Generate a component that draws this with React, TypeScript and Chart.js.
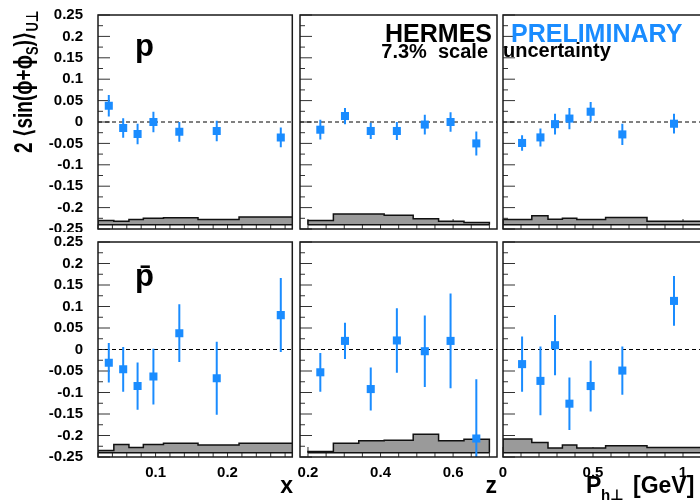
import React, { useEffect, useRef } from 'react';
import { Chart, registerables } from 'chart.js';

Chart.register(...registerables);

const BLUE = '#1a8cff';
const GREY = '#9a9a9a';
const FONT = "'Liberation Sans', Arial, Helvetica, 'DejaVu Sans', sans-serif";

// ---- axis ticks ----
const Y_TICKS = [-0.25, -0.2, -0.15, -0.1, -0.05, 0, 0.05, 0.1, 0.15, 0.2, 0.25];
const X_TICKS_X = [0.1, 0.2];
const Z_TICKS = [0.2, 0.4, 0.6];
const PH_TICKS = [0, 0.5, 1];

// ---- bin centres ----
const X_CENTERS = [0.035, 0.055, 0.075, 0.097, 0.133, 0.185, 0.274];
const Z_CENTERS = [0.234, 0.302, 0.373, 0.445, 0.522, 0.593, 0.664];
const PH_CENTERS = [0.106, 0.208, 0.289, 0.369, 0.487, 0.663, 0.95];

// ---- bin edges (systematic bands) ----
const X_EDGES = [0.02, 0.042, 0.063, 0.083, 0.111, 0.159, 0.216, 0.4];
const Z_EDGES = [0.2, 0.27, 0.34, 0.41, 0.49, 0.56, 0.63, 0.7];
const PH_EDGES = [0, 0.16, 0.25, 0.33, 0.41, 0.57, 0.8, 1.2];
const SYS_BASE = -0.24;

// ---- proton ----
const P_X_VAL = [0.038, -0.014, -0.028, 0.0, -0.023, -0.021, -0.036];
const P_X_ERR = [0.025, 0.023, 0.024, 0.024, 0.023, 0.024, 0.023];
const P_X_SYS = [0.010, 0.008, 0.012, 0.015, 0.016, 0.012, 0.018];

const P_Z_VAL = [-0.018, 0.014, -0.021, -0.021, -0.006, 0.0, -0.050];
const P_Z_ERR = [0.023, 0.019, 0.019, 0.021, 0.023, 0.023, 0.028];
const P_Z_SYS = [0.010, 0.025, 0.025, 0.022, 0.014, 0.008, 0.005];

const P_PH_VAL = [-0.049, -0.036, -0.005, 0.008, 0.024, -0.029, -0.004];
const P_PH_ERR = [0.018, 0.021, 0.024, 0.025, 0.023, 0.025, 0.023];
const P_PH_SYS = [0.012, 0.021, 0.013, 0.015, 0.012, 0.017, 0.008];

// ---- antiproton ----
const PBAR_X_VAL = [-0.031, -0.046, -0.085, -0.063, 0.038, -0.067, 0.080];
const PBAR_X_ERR = [0.046, 0.052, 0.055, 0.065, 0.067, 0.085, 0.086];
const PBAR_X_SYS = [0.005, 0.019, 0.012, 0.019, 0.022, 0.018, 0.022];

const PBAR_Z_VAL = [-0.053, 0.020, -0.092, 0.021, -0.004, 0.020, -0.207];
const PBAR_Z_ERR = [0.045, 0.042, 0.050, 0.075, 0.083, 0.110, 0.138];
const PBAR_Z_SYS = [0.003, 0.022, 0.028, 0.029, 0.043, 0.028, 0.031];

const PBAR_PH_VAL = [-0.034, -0.073, 0.010, -0.126, -0.085, -0.049, 0.113];
const PBAR_PH_ERR = [0.064, 0.080, 0.070, 0.061, 0.059, 0.056, 0.058];
const PBAR_PH_SYS = [0.032, 0.024, 0.011, 0.018, 0.011, 0.016, 0.012];

const Y_TITLE_RUNS = [
  { t: '2 \u27e8sin(\u03d5+\u03d5', sub: false },
  { t: 'S', sub: true },
  { t: ')\u27e9', sub: false },
  { t: 'U\u22a5', sub: true },
];

type TextItem = { t: string; x: number; y: number; size: number; align?: 'left' | 'right'; color?: string };
type Panel = {
  key: string;
  frame: { x: number; y: number; w: number; h: number };
  canvas: { x: number; y: number; w: number; h: number };
  xMin: number; xMax: number;
  centers: number[]; vals: number[]; errs: number[];
  edges: number[]; sys: number[];
  xTicks: number[]; minorStart: number; minorEnd: number; minorStep: number;
  showX: boolean; showY: boolean;
  texts: TextItem[];
  yTitle?: boolean; whiteBg?: boolean;
};

const COLS = [
  { x: 98, w: 197, cx: 0, cw: 298 },
  { x: 300, w: 197, cx: 292, cw: 213 },
  { x: 503, w: 198, cx: 495, cw: 214 },
];
const ROWS = [
  { y: 15, h: 214 },
  { y: 242, h: 215 },
];

const PANELS: Panel[] = [
  {
    key: 'p-x', frame: { x: COLS[0].x, y: ROWS[0].y, w: COLS[0].w, h: ROWS[0].h }, canvas: { x: COLS[0].cx, y: 0, w: COLS[0].cw, h: 241 },
    xMin: 0.02, xMax: 0.29, centers: X_CENTERS, vals: P_X_VAL, errs: P_X_ERR, edges: X_EDGES, sys: P_X_SYS,
    xTicks: X_TICKS_X, minorStart: 0.02, minorEnd: 0.28, minorStep: 0.02, showX: false, showY: true,
    texts: [{ t: 'p', x: 135, y: 56, size: 31 }], yTitle: true,
  },
  {
    key: 'p-z', frame: { x: COLS[1].x, y: ROWS[0].y, w: COLS[1].w, h: ROWS[0].h }, canvas: { x: COLS[1].cx, y: 0, w: COLS[1].cw, h: 235 },
    xMin: 0.178, xMax: 0.721, centers: Z_CENTERS, vals: P_Z_VAL, errs: P_Z_ERR, edges: Z_EDGES, sys: P_Z_SYS,
    xTicks: Z_TICKS, minorStart: 0.2, minorEnd: 0.7, minorStep: 0.05, showX: false, showY: false,
    texts: [
      { t: 'HERMES', x: 492, y: 42, size: 25, align: 'right' },
      { t: '7.3%  scale', x: 488, y: 58, size: 20, align: 'right' },
    ],
  },
  {
    key: 'p-ph', frame: { x: COLS[2].x, y: ROWS[0].y, w: COLS[2].w, h: ROWS[0].h }, canvas: { x: COLS[2].cx, y: 0, w: COLS[2].cw, h: 235 },
    xMin: 0, xMax: 1.1, centers: PH_CENTERS, vals: P_PH_VAL, errs: P_PH_ERR, edges: PH_EDGES, sys: P_PH_SYS,
    xTicks: PH_TICKS, minorStart: 0, minorEnd: 1.1, minorStep: 0.1, showX: false, showY: false,
    texts: [
      { t: 'PRELIMINARY', x: 511, y: 42, size: 25, color: BLUE },
      { t: 'uncertainty', x: 503, y: 57, size: 20 },
    ],
  },
  {
    key: 'pbar-x', frame: { x: COLS[0].x, y: ROWS[1].y, w: COLS[0].w, h: ROWS[1].h }, canvas: { x: COLS[0].cx, y: 232, w: COLS[0].cw, h: 270 },
    xMin: 0.02, xMax: 0.29, centers: X_CENTERS, vals: PBAR_X_VAL, errs: PBAR_X_ERR, edges: X_EDGES, sys: PBAR_X_SYS,
    xTicks: X_TICKS_X, minorStart: 0.02, minorEnd: 0.28, minorStep: 0.02, showX: true, showY: true,
    texts: [
      { t: 'p\u0304', x: 135, y: 286, size: 31 },
      { t: 'x', x: 293, y: 493, size: 23, align: 'right' },
    ],
    whiteBg: true,
  },
  {
    key: 'pbar-z', frame: { x: COLS[1].x, y: ROWS[1].y, w: COLS[1].w, h: ROWS[1].h }, canvas: { x: COLS[1].cx, y: 232, w: COLS[1].cw, h: 270 },
    xMin: 0.178, xMax: 0.721, centers: Z_CENTERS, vals: PBAR_Z_VAL, errs: PBAR_Z_ERR, edges: Z_EDGES, sys: PBAR_Z_SYS,
    xTicks: Z_TICKS, minorStart: 0.2, minorEnd: 0.7, minorStep: 0.05, showX: true, showY: false,
    texts: [{ t: 'z', x: 497, y: 493, size: 23, align: 'right' }],
  },
  {
    key: 'pbar-ph', frame: { x: COLS[2].x, y: ROWS[1].y, w: COLS[2].w, h: ROWS[1].h }, canvas: { x: COLS[2].cx, y: 232, w: COLS[2].cw, h: 270 },
    xMin: 0, xMax: 1.1, centers: PH_CENTERS, vals: PBAR_PH_VAL, errs: PBAR_PH_ERR, edges: PH_EDGES, sys: PBAR_PH_SYS,
    xTicks: PH_TICKS, minorStart: 0, minorEnd: 1.1, minorStep: 0.1, showX: true, showY: false,
    texts: [
      { t: 'P', x: 586, y: 493, size: 23 },
      { t: 'h\u22a5', x: 601, y: 500, size: 15 },
      { t: '[GeV]', x: 633, y: 493, size: 23 },
    ],
  },
];

const fmt = (v: number) => String(Math.round(v * 1000) / 1000);

function makeDecor(p: Panel) {
  return {
    id: 'decor',
    beforeDatasetsDraw(chart: any) {
      const { ctx, chartArea: a, scales } = chart;
      const xs = scales.x;
      const ys = scales.y;
      ctx.save();
      ctx.strokeStyle = '#333';
      ctx.lineWidth = 1;
      ctx.beginPath();
      for (let i = 0; i < Y_TICKS.length; i++) {
        const py = ys.getPixelForValue(Y_TICKS[i]);
        ctx.moveTo(a.left, py);
        ctx.lineTo(a.left + 12, py);
        if (i < Y_TICKS.length - 1) {
          const pm = ys.getPixelForValue((Y_TICKS[i] + Y_TICKS[i + 1]) / 2);
          ctx.moveTo(a.left, pm);
          ctx.lineTo(a.left + 5, pm);
        }
      }
      const n = Math.round((p.minorEnd - p.minorStart) / p.minorStep);
      for (let k = 0; k <= n; k++) {
        const v = p.minorStart + k * p.minorStep;
        const major = p.xTicks.some((t) => Math.abs(t - v) < 1e-6);
        const px = xs.getPixelForValue(v);
        ctx.moveTo(px, a.bottom);
        ctx.lineTo(px, a.bottom - (major ? 10 : 4.5));
      }
      ctx.stroke();
      ctx.restore();
    },
    afterDatasetsDraw(chart: any) {
      const { ctx, chartArea: a } = chart;
      ctx.save();
      ctx.strokeStyle = '#1a1a1a';
      ctx.lineWidth = 1.5;
      ctx.strokeRect(a.left, a.top, a.right - a.left, a.bottom - a.top);
      ctx.textBaseline = 'alphabetic';
      for (const t of p.texts) {
        ctx.font = `bold ${t.size}px ${FONT}`;
        ctx.fillStyle = t.color || '#000';
        ctx.textAlign = t.align || 'left';
        ctx.fillText(t.t, t.x - p.canvas.x, t.y - p.canvas.y);
      }
      if (p.yTitle) {
        ctx.save();
        ctx.translate(31.5 - p.canvas.x, 153 - p.canvas.y);
        ctx.rotate(-Math.PI / 2);
        ctx.scale(0.76, 1);
        ctx.fillStyle = '#000';
        ctx.textAlign = 'left';
        let cx = 0;
        for (const r of Y_TITLE_RUNS) {
          ctx.font = `bold ${r.sub ? 17 : 25}px ${FONT}`;
          ctx.fillText(r.t, cx, r.sub ? 6 : 0);
          cx += ctx.measureText(r.t).width;
        }
        ctx.restore();
      }
      ctx.restore();
    },
  };
}

function buildConfig(p: Panel): any {
  const points = p.centers.map((x, i) => ({ x, y: p.vals[i] }));
  const bars: any[] = [];
  p.centers.forEach((x, i) => {
    bars.push({ x, y: p.vals[i] - p.errs[i] });
    bars.push({ x, y: p.vals[i] + p.errs[i] });
    bars.push({ x, y: null });
  });
  const first = p.edges[0];
  const last = p.edges[p.edges.length - 1];
  const band: any[] = [{ x: first, y: SYS_BASE }];
  p.sys.forEach((s, i) => band.push({ x: p.edges[i], y: SYS_BASE + s }));
  band.push({ x: last, y: SYS_BASE + p.sys[p.sys.length - 1] });
  band.push({ x: last, y: SYS_BASE });

  const padTop = p.frame.y - p.canvas.y;
  const padLeft = p.frame.x - p.canvas.x;
  const padRight = p.canvas.x + p.canvas.w - (p.frame.x + p.frame.w);
  const padBottom = p.canvas.y + p.canvas.h - (p.frame.y + p.frame.h);
  const tickFont = { family: FONT, size: 15, weight: 'bold' as const };

  const xScale: any = {
    type: 'linear', min: p.xMin, max: p.xMax, offset: false,
    display: p.showX,
    grid: { display: false, drawTicks: true, tickLength: 7 },
    border: { display: false },
    ticks: {
      font: tickFont, color: '#000', padding: 0, autoSkip: false, maxRotation: 0, minRotation: 0,
      callback: (v: any) => fmt(Number(v)),
    },
    afterBuildTicks: (s: any) => { s.ticks = p.xTicks.map((v) => ({ value: v })); },
  };
  if (p.showX) xScale.afterFit = (s: any) => { s.height = padBottom; };

  const yScale: any = {
    type: 'linear', min: -0.25, max: 0.25,
    display: p.showY,
    grid: { display: false, drawTicks: true, tickLength: 15 },
    border: { display: false },
    ticks: {
      font: tickFont, color: '#000', padding: 0, autoSkip: false,
      callback: (v: any) => fmt(Number(v)),
    },
    afterBuildTicks: (s: any) => { s.ticks = Y_TICKS.map((v) => ({ value: v })); },
  };
  if (p.showY) yScale.afterFit = (s: any) => { s.width = padLeft; };

  return {
    type: 'scatter',
    data: {
      datasets: [
        {
          type: 'scatter', data: points, order: 0,
          pointStyle: 'rect', pointRadius: 5.7, pointHoverRadius: 5.7,
          backgroundColor: BLUE, borderWidth: 0,
        },
        {
          type: 'line', data: bars, order: 1, spanGaps: false,
          borderColor: BLUE, borderWidth: 2, pointRadius: 0, borderCapStyle: 'butt',
        },
        {
          type: 'line', data: [{ x: p.xMin, y: 0 }, { x: p.xMax, y: 0 }], order: 2,
          borderColor: '#000', borderWidth: 1, borderDash: [4, 3], pointRadius: 0,
        },
        {
          type: 'line', data: [{ x: first, y: SYS_BASE }, { x: last, y: SYS_BASE }], order: 3,
          borderColor: '#111', borderWidth: 1.5, pointRadius: 0,
        },
        {
          type: 'line', data: band, order: 4, stepped: true,
          fill: { value: SYS_BASE }, backgroundColor: GREY,
          borderColor: '#111', borderWidth: 1.5, pointRadius: 0, borderJoinStyle: 'miter',
        },
      ],
    },
    options: {
      animation: false,
      responsive: false,
      events: [],
      layout: {
        padding: {
          top: padTop,
          left: p.showY ? 0 : padLeft,
          right: padRight,
          bottom: p.showX ? 0 : padBottom,
        },
      },
      plugins: { legend: { display: false }, tooltip: { enabled: false } },
      scales: { x: xScale, y: yScale },
    },
    plugins: [makeDecor(p)],
  };
}

function PanelChart({ panel }: { panel: Panel }) {
  const ref = useRef<HTMLCanvasElement>(null);
  useEffect(() => {
    const chart = new Chart(ref.current as HTMLCanvasElement, buildConfig(panel));
    return () => chart.destroy();
  }, [panel]);
  return (
    <canvas
      ref={ref}
      width={panel.canvas.w}
      height={panel.canvas.h}
      style={{
        position: 'absolute',
        left: panel.canvas.x,
        top: panel.canvas.y,
        width: panel.canvas.w,
        height: panel.canvas.h,
        background: panel.whiteBg ? '#fff' : 'transparent',
      }}
    />
  );
}

export default function App() {
  return (
    <div
      style={{
        position: 'fixed', left: 0, top: 0, width: 700, height: 502,
        overflow: 'hidden', background: '#fff',
      }}
    >
      {PANELS.map((p) => (
        <PanelChart key={p.key} panel={p} />
      ))}
    </div>
  );
}
